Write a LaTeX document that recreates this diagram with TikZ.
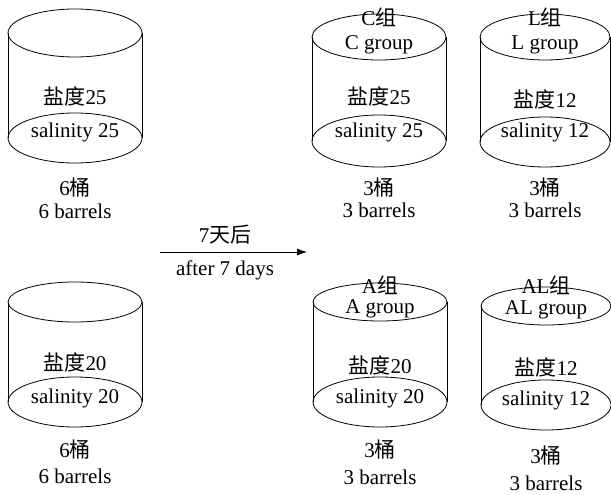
\documentclass[tikz,border=0pt]{standalone}
\usepackage{fontspec}
\setmainfont{Liberation Serif}
\newfontfamily\cjk{Noto Sans CJK SC}
\usetikzlibrary{arrows.meta}
\tikzset{
  line/.style={draw=black, line width=0.8pt},
  lbl/.style={inner sep=0pt, anchor=base, font=\fontsize{21}{24}\selectfont},
  pics/barrel/.style args={#1/#2/#3/#4/#5}{code={%
    \draw[line] (0,0) ellipse[x radius=#1, y radius=#2];
    \draw[line] (0,-#3) ellipse[x radius=#1, y radius=#4];
    \draw[line] (-#1,0) -- (-#1,-#3);
    \draw[line] (#1,0) -- (#1,-#3);
  }}
}
\begin{document}
\begin{tikzpicture}[x=1pt,y=1pt]
\useasboundingbox (0,0) rectangle (611,-495);
% barrels
\pic at (75,-33) {barrel=67/24/105/25/0};
\pic at (379,-37) {barrel=67/23/104/26/0};
\pic at (545,-37) {barrel=65/23/105/25/0};
\pic at (75,-302) {barrel=67/20/100/25/0};
\pic at (380,-302) {barrel=67/19/100/25/0};
\pic at (546,-306) {barrel=65/19/99/25/0};
% barrel 1
\node[lbl] (s1a) at (75,-105) {{\cjk 盐度}25};
\node[lbl] (s1b) at (75,-137) {salinity 25};
\node[lbl] (n1a) at (75,-195) {6{\cjk 桶}};
\node[lbl] (n1b) at (75,-218) {6 barrels};
% C
\node[lbl] (gCa) at (379,-26) {C{\cjk 组}};
\node[lbl] (gCb) at (379,-50) {C group};
\node[lbl] (sCa) at (379,-105) {{\cjk 盐度}25};
\node[lbl] (sCb) at (379,-137) {salinity 25};
\node[lbl] (nCa) at (379,-195) {3{\cjk 桶}};
\node[lbl] (nCb) at (379,-217) {3 barrels};
% L
\node[lbl] (gLa) at (545,-26) {L{\cjk 组}};
\node[lbl] (gLb) at (545,-50) {L group};
\node[lbl] (sLa) at (545,-107) {{\cjk 盐度}12};
\node[lbl] (sLb) at (545,-138) {salinity 12};
\node[lbl] (nLa) at (545,-195) {3{\cjk 桶}};
\node[lbl] (nLb) at (545,-217) {3 barrels};
% arrow
\coordinate (ar1) at (160,-252);
\coordinate (ar2) at (307,-252);
\draw[line, -{Latex[length=10pt,width=7pt]}] (ar1) -- (ar2);
\node[lbl] (tA) at (225,-242) {7{\cjk 天后}};
\node[lbl] (tB) at (225,-275) {after 7 days};
% barrel 4
\node[lbl] (s4a) at (75,-370) {{\cjk 盐度}20};
\node[lbl] (s4b) at (75,-403) {salinity 20};
\node[lbl] (n4a) at (75,-457) {6{\cjk 桶}};
\node[lbl] (n4b) at (75,-483) {6 barrels};
% A
\node[lbl] (gAa) at (380,-293) {A{\cjk 组}};
\node[lbl] (gAb) at (380,-313) {A group};
\node[lbl] (sAa) at (380,-373) {{\cjk 盐度}20};
\node[lbl] (sAb) at (380,-403) {salinity 20};
\node[lbl] (nAa) at (380,-457) {3{\cjk 桶}};
\node[lbl] (nAb) at (380,-484) {3 barrels};
% AL
\node[lbl] (gALa) at (546,-293) {AL{\cjk 组}};
\node[lbl] (gALb) at (546,-314) {AL group};
\node[lbl] (sALa) at (546,-375) {{\cjk 盐度}12};
\node[lbl] (sALb) at (546,-405) {salinity 12};
\node[lbl] (nALa) at (546,-463) {3{\cjk 桶}};
\node[lbl] (nALb) at (546,-490) {3 barrels};
\end{tikzpicture}
\end{document}
